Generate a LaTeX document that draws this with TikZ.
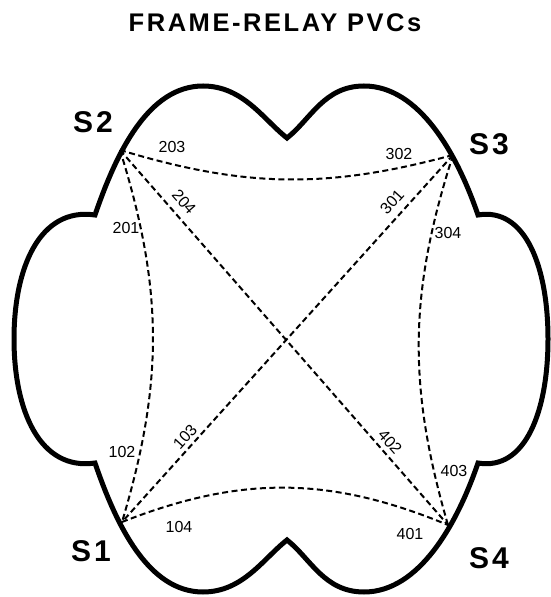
\documentclass[tikz,border=0pt]{standalone}
\usepackage{fontspec}
\setmainfont{Liberation Sans}
\newfontfamily\spacedsans[LetterSpace=10]{Liberation Sans}

\begin{document}
\begin{tikzpicture}[x=1pt, y=1pt,
    cloud/.style={line width=5pt, line join=miter},
    pvc/.style={line width=2pt, dash pattern=on 6pt off 3.5pt},
    dlci/.style={inner sep=0pt, font=\fontsize{16}{18}\selectfont},
    site/.style={inner sep=0pt, font=\spacedsans\bfseries\fontsize{30}{34}\selectfont},
    titulo/.style={inner sep=0pt, font=\spacedsans\bfseries\fontsize{25.5}{30}\selectfont}]
        \useasboundingbox (0,0) rectangle (551,597);

        % Titulo
        \node[titulo] (title) at (275,574) {FRAME-RELAY PVCs};

        % Nuvem da rede frame-relay
        \draw[cloud] (287,459)
            .. controls (263.4,477.5) and (243,511) .. (203,511)
            .. controls (148,511) and (116.1,443.5) .. (95,382)
            .. controls (40,390) and (14,330) .. (14,258)
            .. controls (14,186) and (40,126) .. (95,134)
            .. controls (116.1,72.5) and (148,5) .. (203,5)
            .. controls (243,5) and (263.4,38.5) .. (287,57)
            .. controls (310.6,38.5) and (324,5) .. (364,5)
            .. controls (419,5) and (456.9,72.5) .. (478,134)
            .. controls (525.5,126) and (548,186) .. (548,258)
            .. controls (548,330) and (525.5,390) .. (478,382)
            .. controls (456.9,443.5) and (419,511) .. (364,511)
            .. controls (324,511) and (310.6,477.5) .. (287,459) -- cycle;

        % Pontos de acesso dos sites
        \coordinate (S1) at (122,75);
        \coordinate (S2) at (120,447);
        \coordinate (S3) at (453,442);
        \coordinate (S4) at (448,72);

        \node[site] (tS1) at (91,46) {S1};
        \node[site] (tS2) at (93,475) {S2};
        \node[site] (tS3) at (489,453) {S3};
        \node[site] (tS4) at (489,39) {S4};

        % Circuitos virtuais (PVCs)
        \draw[pvc] (S2) to[bend right=16] (S3);
        \draw[pvc] (S1) to[bend left=22] (S4);
        \draw[pvc] (S2) to[bend left=17] (S1);
        \draw[pvc] (S3) to[bend right=17] (S4);
        \draw[pvc] (S2) -- (S4);
        \draw[pvc] (S3) -- (S1);

        % DLCIs em cada ponta
        \node[dlci] (d203) at (172,450) {203};
        \node[dlci] (d302) at (399,443) {302};
        \node[dlci] (d201) at (126,369) {201};
        \node[dlci, rotate=-48.8] (d204) at (184,395) {204};
        \node[dlci, rotate=47.9] (d301) at (392,395) {301};
        \node[dlci] (d304) at (448,364) {304};
        \node[dlci] (d102) at (122,145) {102};
        \node[dlci, rotate=47.9] (d103) at (185,160) {103};
        \node[dlci, rotate=-48.8] (d402) at (390,155) {402};
        \node[dlci] (d403) at (454,126) {403};
        \node[dlci] (d104) at (179,70) {104};
        \node[dlci] (d401) at (410,63) {401};

    \end{tikzpicture}
\end{document}
